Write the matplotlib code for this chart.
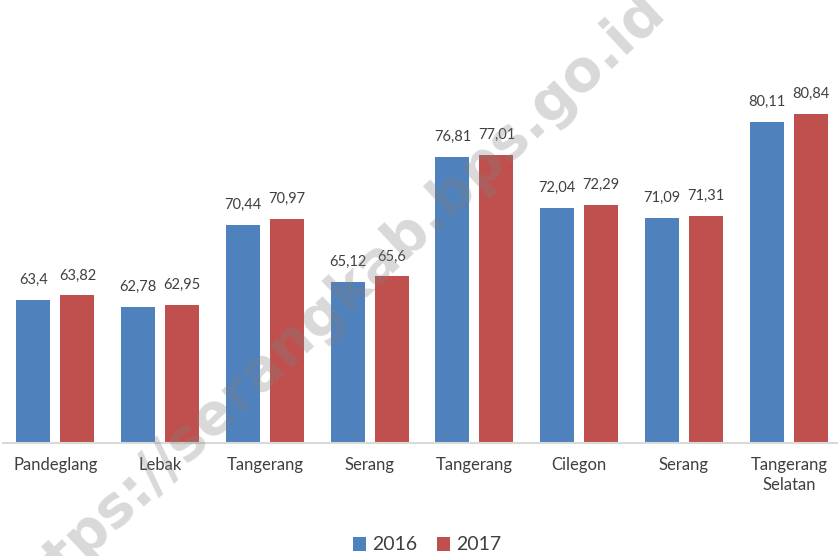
import matplotlib
matplotlib.use("Agg")
import matplotlib.pyplot as plt
import numpy as np

categories = ["Pandeglang", "Lebak", "Tangerang", "Serang", "Tangerang", "Cilegon", "Serang", "Tangerang\nSelatan"]
v2016 = [63.4, 62.78, 70.44, 65.12, 76.81, 72.04, 71.09, 80.11]
v2017 = [63.82, 62.95, 70.97, 65.6, 77.01, 72.29, 71.31, 80.84]
lab2016 = ["63,4", "62,78", "70,44", "65,12", "76,81", "72,04", "71,09", "80,11"]
lab2017 = ["63,82", "62,95", "70,97", "65,6", "77,01", "72,29", "71,31", "80,84"]

plt.rcParams['font.family'] = ['Lato', 'DejaVu Sans']
W, H = 838, 556
fig = plt.figure(figsize=(W/100, H/100), dpi=100)
ax = fig.add_axes([3/W, (H-443)/H, 1-3/W, (443-16)/H])

x = np.arange(len(categories))
bw = 0.325
off = 0.21
blue = "#4f81bd"
red = "#c0504d"
b1 = ax.bar(x - off, v2016, bw, color=blue, label="2016", zorder=2)
b2 = ax.bar(x + off, v2017, bw, color=red, label="2017", zorder=2)
for xi, v, l in zip(x - off, v2016, lab2016):
    ax.text(xi, v + 1.2, l, ha="center", va="bottom", fontsize=10.5, color="#404040")
for xi, v, l in zip(x + off, v2017, lab2017):
    ax.text(xi, v + 1.2, l, ha="center", va="bottom", fontsize=10.5, color="#404040")

ax.set_ylim(50, 90)
ax.set_xlim(-0.5, 7.47)
for s in ["top", "right", "left"]:
    ax.spines[s].set_visible(False)
ax.spines["bottom"].set_color("#d9d9d9")
ax.spines["bottom"].set_linewidth(1.5)
ax.set_yticks([])
ax.set_xticks(x)
ax.set_xticklabels(categories, fontsize=12, color="#404040", linespacing=1.3)
ax.tick_params(axis="x", length=0, pad=10)

fig.legend(handles=[b1, b2], labels=["2016", "2017"], loc="center", bbox_to_anchor=(427/W, 1-545/H),
           ncol=2, frameon=False, fontsize=14, handlelength=0.7, handleheight=0.7,
           handletextpad=0.3, columnspacing=1.0, labelcolor="#404040")

fig.text(330/W, 1-306/H, "https://serangkab.bps.go.id", rotation=43, ha="center", va="center",
         fontsize=41, fontweight="bold", color="#808080", alpha=0.3, family="DejaVu Sans", zorder=10)

fig.savefig("out.png", dpi=100)
